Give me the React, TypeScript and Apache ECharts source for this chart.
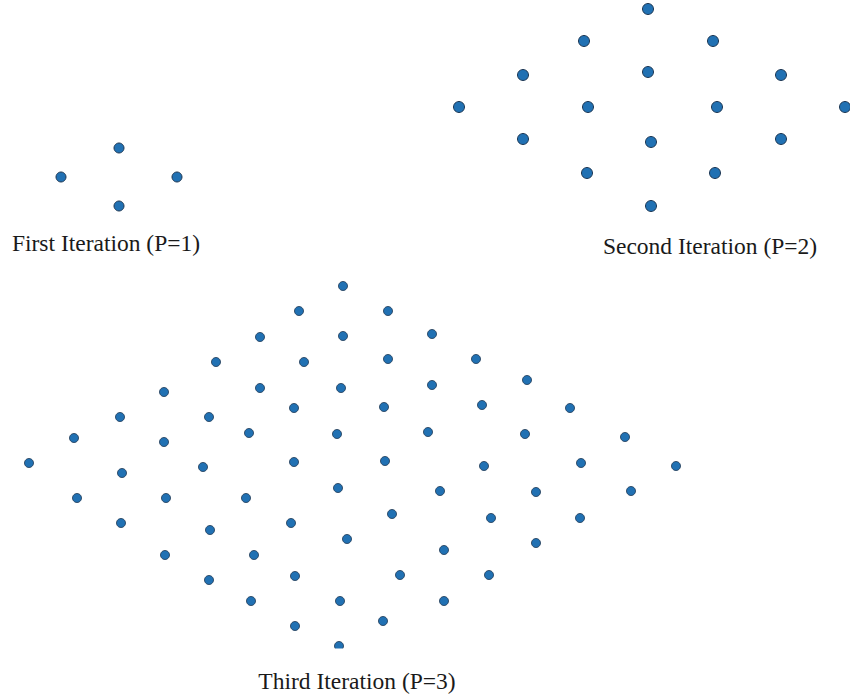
import React, { useEffect, useRef } from "react";
import * as echarts from "echarts";

// Point positions (diagram units, origin at each diamond's centre, y up)
const firstIterationPoints: [number, number][] = [
  [-58, 0], [0, 29], [58, 0], [0, -29],
];

const secondIterationPoints: [number, number][] = [
  [-4, 98],
  [-68, 66], [61, 66],
  [-129, 32], [-4, 35], [129, 32],
  [-193, 0], [-64, 0], [65, 0], [193, 0],
  [-129, -32], [-1, -35], [129, -32],
  [-65, -66], [63, -66],
  [-1, -99],
];

const thirdIterationPoints: [number, number][] = [
  [-7, 180],
  [-51, 155], [38, 155],
  [-90, 129], [-7, 130], [82, 132],
  [-134, 104], [-46, 104], [38, 107], [126, 107],
  [-186, 74], [-90, 78], [-9, 78], [82, 81], [177, 86],
  [-230, 49], [-141, 49], [-56, 58], [34, 59], [132, 61], [220, 58],
  [-276, 28], [-186, 24], [-101, 33], [-13, 32], [78, 34], [175, 32], [275, 29],
  [-321, 3], [-228, -7], [-147, -1], [-56, 4], [35, 5], [134, 0], [231, 3], [326, 0],
  [-273, -32], [-184, -32], [-104, -32], [-12, -22], [90, -25], [186, -26], [281, -25],
  [-229, -57], [-140, -64], [-59, -57], [42, -48], [141, -52], [230, -52],
  [-185, -89], [-96, -89], [-3, -73], [94, -84], [186, -77],
  [-141, -114], [-55, -110], [50, -109], [139, -109],
  [-99, -135], [-10, -135], [94, -135],
  [-55, -160], [33, -155],
  [-11, -180],
];

const captions: string[] = [
  "First Iteration (P=1)",
  "Second Iteration (P=2)",
  "Third Iteration (P=3)",
];

const DOT_FILL = "#2171b3";
const DOT_EDGE = "#1d3652";

export default function App() {
  const ref = useRef<HTMLDivElement>(null);

  useEffect(() => {
    if (!ref.current) return;
    const chart = echarts.init(ref.current, undefined, { renderer: "svg" });

    const panels = [
      { grid: { left: 39, top: 127, width: 160, height: 100 }, x: [-80, 80], y: [-50, 50], data: firstIterationPoints, size: 10, bw: 1 },
      { grid: { left: 442, top: 0, width: 408, height: 214 }, x: [-210, 198], y: [-107, 107], data: secondIterationPoints, size: 11, bw: 1 },
      { grid: { left: 10, top: 276, width: 680, height: 380 }, x: [-340, 340], y: [-190, 190], data: thirdIterationPoints, size: 9, bw: 0.8 },
    ];

    const captionPos = [
      { x: 106, y: 243 },
      { x: 710, y: 246 },
      { x: 357, y: 681 },
    ];

    chart.setOption({
      animation: false,
      backgroundColor: "#ffffff",
      grid: panels.map((p) => ({ ...p.grid, containLabel: false })),
      xAxis: panels.map((p, i) => ({
        type: "value",
        gridIndex: i,
        min: p.x[0],
        max: p.x[1],
        show: false,
      })),
      yAxis: panels.map((p, i) => ({
        type: "value",
        gridIndex: i,
        min: p.y[0],
        max: p.y[1],
        show: false,
      })),
      series: panels.map((p, i) => ({
        type: "scatter",
        xAxisIndex: i,
        yAxisIndex: i,
        data: p.data,
        symbol: "circle",
        symbolSize: p.size,
        clip: false,
        itemStyle: {
          color: DOT_FILL,
          borderColor: DOT_EDGE,
          borderWidth: p.bw,
          opacity: 1,
        },
        emphasis: { disabled: true },
      })),
      graphic: [
        // the reference image is cut just below the lowest dot of the third diamond
        {
          type: "rect",
          z: 100,
          shape: { x: 320, y: 648.5, width: 40, height: 12 },
          style: { fill: "#ffffff" },
          silent: true,
        },
        ...captions.map((c, i) => ({
          type: "text",
          z: 101,
          x: captionPos[i].x,
          y: captionPos[i].y,
          style: {
            text: c,
            fontFamily: "'Liberation Serif', 'Times New Roman', serif",
            fontSize: 23.5,
            fill: "#1a1a1a",
            textAlign: "center",
            textVerticalAlign: "middle",
          },
          silent: true,
        })),
      ],
    });

    return () => {
      chart.dispose();
    };
  }, []);

  return (
    <div
      ref={ref}
      style={{ position: "fixed", left: 0, top: 0, width: 850, height: 700 }}
    />
  );
}
